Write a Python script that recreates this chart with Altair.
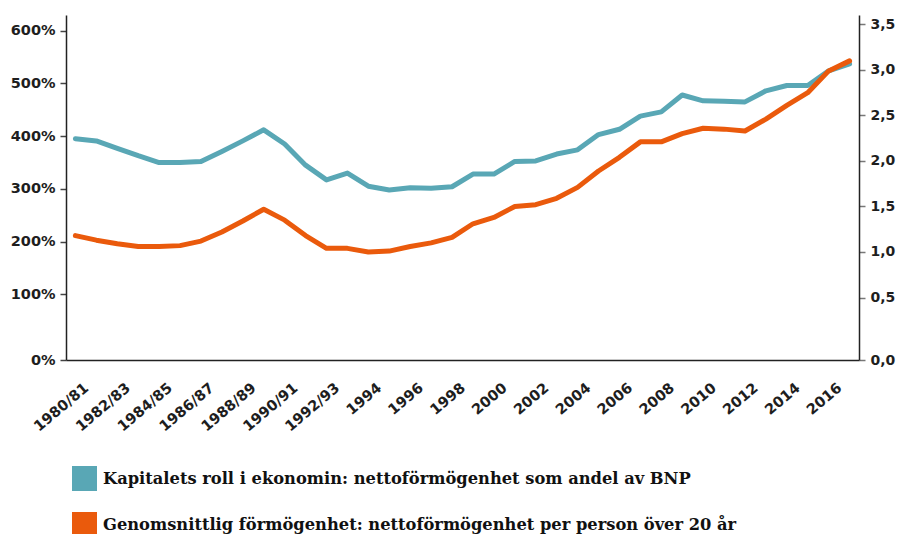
import altair as alt
import pandas as pd

# ---- data ----
periods = [
    "1980/81", "1981/82", "1982/83", "1983/84", "1984/85", "1985/86", "1986/87",
    "1987/88", "1988/89", "1989/90", "1990/91", "1991/92", "1992/93", "1993",
    "1994", "1995", "1996", "1997", "1998", "1999", "2000", "2001", "2002",
    "2003", "2004", "2005", "2006", "2007", "2008", "2009", "2010", "2011",
    "2012", "2013", "2014", "2015", "2016", "2017",
]
shown_labels = [
    "1980/81", "1982/83", "1984/85", "1986/87", "1988/89", "1990/91", "1992/93",
    "1994", "1996", "1998", "2000", "2002", "2004", "2006", "2008", "2010",
    "2012", "2014", "2016",
]
# net wealth as share of GDP (%), left axis
kapital_andel = [
    395, 391, 377, 363, 350, 350, 352, 371, 391, 412, 385, 345, 317, 330,
    305, 298, 302, 301, 304, 328, 328, 352, 353, 366, 374, 403, 413, 438,
    446, 478, 467, 466, 465, 486, 496, 496, 524, 537,
]
# average net wealth per person over 20 (right axis)
formogenhet = [
    1.18, 1.13, 1.09, 1.06, 1.06, 1.07, 1.12, 1.22, 1.34, 1.47, 1.35, 1.18,
    1.04, 1.04, 1.00, 1.01, 1.06, 1.10, 1.16, 1.31, 1.38, 1.50, 1.52, 1.59,
    1.71, 1.89, 2.04, 2.21, 2.21, 2.30, 2.36, 2.35, 2.33, 2.46, 2.61, 2.75,
    2.99, 3.10,
]
left_ticks = [0, 100, 200, 300, 400, 500, 600]
right_ticks = [0, 0.5, 1.0, 1.5, 2.0, 2.5, 3.0, 3.5]
series_names = [
    "Kapitalets roll i ekonomin: nettoförmögenhet som andel av BNP",
    "Genomsnittlig förmögenhet: nettoförmögenhet per person över 20 år",
]
series_colors = ["#59a7b5", "#ea5a0c"]

df = pd.DataFrame({
    "period": periods + periods,
    "serie": [series_names[0]] * len(periods) + [series_names[1]] * len(periods),
    "value": kapital_andel + formogenhet,
})

W, H = 793, 345
AX_FONT = "DejaVu Sans"
AX_SIZE = 14.5
TXT = "#1e1e1e"

x_enc = alt.X(
    "period:N",
    sort=periods,
    scale=alt.Scale(type="point", padding=0.45),
    axis=alt.Axis(
        title=None, values=shown_labels, labelAngle=-40, labelAlign="right",
        labelBaseline="middle", labelPadding=26, labelOffset=11, ticks=False,
        domainColor="#222222", domainWidth=1.5, labelFont=AX_FONT,
        labelFontSize=AX_SIZE, labelFontWeight="bold", labelColor=TXT, grid=False,
    ),
)

color_enc = alt.Color(
    "serie:N",
    scale=alt.Scale(domain=series_names, range=series_colors),
    legend=alt.Legend(
        title=None, orient="none", legendX=6, legendY=451, direction="vertical",
        columns=1, symbolType="square", symbolSize=156.25, symbolStrokeWidth=12.5,
        labelFont="DejaVu Serif", labelFontWeight="bold", labelFontSize=16.3,
        labelColor="#111111", labelOffset=6, labelLimit=900, rowPadding=-17,
        padding=0,
    ),
)

left = alt.Chart(df).transform_filter(
    alt.datum.serie == series_names[0]
).mark_line(strokeWidth=5, strokeJoin="round", strokeCap="round").encode(
    x=x_enc,
    y=alt.Y(
        "value:Q",
        scale=alt.Scale(domain=[0, 100, 629.8], range=[H, 279.3, 0], nice=False, zero=False),
        axis=alt.Axis(
            title=None, orient="left", values=left_ticks, labelExpr="datum.value + '%'",
            tickSize=6, tickColor="#444444", tickWidth=1.5, domainColor="#222222",
            domainWidth=1.5, labelPadding=5, labelFont=AX_FONT, labelFontSize=AX_SIZE,
            labelFontWeight="bold", labelColor=TXT, grid=False,
        ),
    ),
    color=color_enc,
)

right = alt.Chart(df).transform_filter(
    alt.datum.serie == series_names[1]
).mark_line(strokeWidth=5, strokeJoin="round", strokeCap="round").encode(
    x=x_enc,
    y=alt.Y(
        "value:Q",
        scale=alt.Scale(domain=[0, 0.5, 3.604], range=[H, 282.5, 0], nice=False, zero=False),
        axis=alt.Axis(
            title=None, orient="right", values=right_ticks,
            labelExpr="replace(format(datum.value, '.1f'), '.', ',')",
            tickSize=6, tickColor="#777777", tickWidth=1.5, domainColor="#222222",
            domainWidth=1.5, labelPadding=5, labelFont=AX_FONT, labelFontSize=14,
            labelFontWeight="bold", labelColor=TXT, grid=False,
        ),
    ),
    color=color_enc,
)

chart = alt.layer(left, right).resolve_scale(y="independent").properties(
    width=W,
    height=H,
    autosize=alt.AutoSizeParams(type="none"),
    padding={"left": 58, "top": 7, "right": 37, "bottom": 174},
    background="white",
).configure_view(strokeWidth=0)

chart.save("out.html", embed_options={"renderer": "svg", "actions": False})
